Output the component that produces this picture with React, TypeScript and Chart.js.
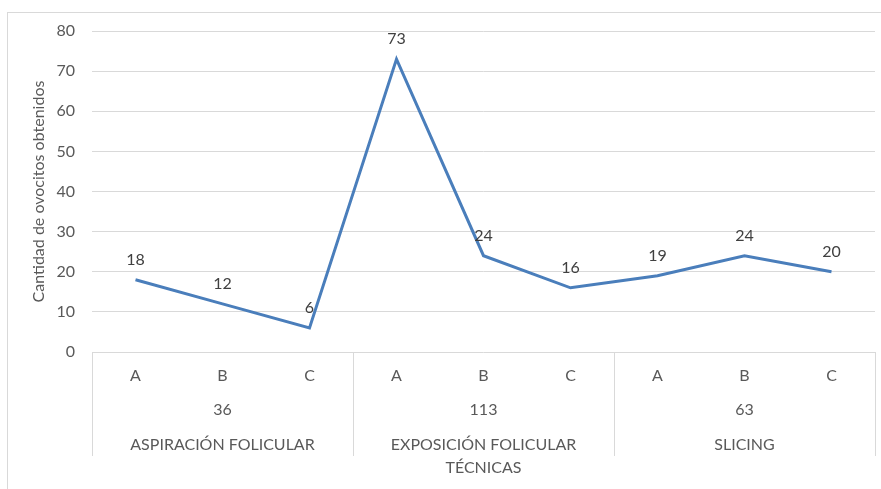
import React, { useEffect, useRef } from "react";
import { Chart, registerables } from "chart.js";

Chart.register(...registerables);

// Oocytes obtained per technique and sub-group
const subLabels = ["A", "B", "C", "A", "B", "C", "A", "B", "C"];
const oocyteCounts = [18, 12, 6, 73, 24, 16, 19, 24, 20];
const groupTotals = ["36", "113", "63"];
const techniques = ["ASPIRACIÓN FOLICULAR", "EXPOSICIÓN FOLICULAR", "SLICING"];
const yTicks = [0, 10, 20, 30, 40, 50, 60, 70, 80];

const FONT = "Lato, 'Open Sans', sans-serif";
const FONT_SIZE = 16;
const TICK_COLOR = "#595959";
const GRID_COLOR = "#d9d9d9";
const LINE_COLOR = "#4a7ebb";

const frame = {
  id: "frame",
  beforeDraw(chart: any) {
    const { ctx } = chart;
    ctx.save();
    ctx.fillStyle = "#ffffff";
    ctx.fillRect(0, 0, chart.width, chart.height);
    ctx.strokeStyle = GRID_COLOR;
    ctx.lineWidth = 1;
    ctx.strokeRect(7.5, 12.5, chart.width, chart.height);
    ctx.restore();
  },
};

// vertical separators between the technique groups, below the plot
const groupSeparators = {
  id: "groupSeparators",
  afterDraw(chart: any) {
    const { ctx, chartArea } = chart;
    const x = chart.scales.x;
    const x3 = chart.scales.x3;
    ctx.save();
    ctx.strokeStyle = GRID_COLOR;
    ctx.lineWidth = 1;
    for (let g = 0; g <= techniques.length; g++) {
      const px = Math.round(x.getPixelForValue(g * 3 - 0.5)) + 0.5;
      ctx.beginPath();
      ctx.moveTo(px, chartArea.bottom);
      ctx.lineTo(px, x3.top + 36);
      ctx.stroke();
    }
    ctx.restore();
  },
};

// value labels above each point
const valueLabels = {
  id: "valueLabels",
  afterDatasetsDraw(chart: any) {
    const { ctx } = chart;
    const meta = chart.getDatasetMeta(0);
    ctx.save();
    ctx.fillStyle = "#404040";
    ctx.font = `${FONT_SIZE}px ${FONT}`;
    ctx.textAlign = "center";
    ctx.textBaseline = "middle";
    meta.data.forEach((pt: any, i: number) => {
      ctx.fillText(String(oocyteCounts[i]), pt.x, pt.y - 20);
    });
    ctx.restore();
  },
};

const tickFont = { family: FONT, size: FONT_SIZE };

export default function App() {
  const canvasRef = useRef<HTMLCanvasElement | null>(null);

  useEffect(() => {
    if (!canvasRef.current) return;
    const chart = new Chart(canvasRef.current, {
      type: "line",
      data: {
        labels: subLabels,
        datasets: [
          {
            data: oocyteCounts,
            borderColor: LINE_COLOR,
            borderWidth: 3,
            pointRadius: 0,
            tension: 0,
            fill: false,
          },
        ],
      },
      options: {
        responsive: false,
        animation: false,
        layout: { padding: { left: 20, right: 6, top: 31, bottom: 12 } },
        plugins: {
          legend: { display: false },
          tooltip: { enabled: false },
        },
        scales: {
          x: {
            type: "category",
            position: "bottom",
            weight: 0,
            offset: true,
            grid: { display: false },
            border: { display: false },
            ticks: {
              color: TICK_COLOR,
              font: tickFont,
              padding: 6,
              maxRotation: 0,
              autoSkip: false,
            },
            afterFit: (s: any) => {
              s.height = 34;
            },
          },
          x2: {
            type: "category",
            position: "bottom",
            weight: 1,
            labels: groupTotals,
            offset: true,
            grid: { display: false },
            border: { display: false },
            ticks: {
              color: TICK_COLOR,
              font: tickFont,
              padding: 6,
              maxRotation: 0,
              autoSkip: false,
            },
            afterFit: (s: any) => {
              s.height = 34;
            },
          },
          x3: {
            type: "category",
            position: "bottom",
            weight: 2,
            labels: techniques,
            offset: true,
            grid: { display: false },
            border: { display: false },
            ticks: {
              color: TICK_COLOR,
              font: tickFont,
              padding: 7,
              maxRotation: 0,
              autoSkip: false,
            },
            title: {
              display: true,
              text: "TÉCNICAS",
              color: TICK_COLOR,
              font: tickFont,
              padding: { top: 0, bottom: 0 },
            },
            afterFit: (s: any) => {
              s.height = 57;
            },
          },
          y: {
            min: 0,
            max: 80,
            afterBuildTicks: (s: any) => {
              s.ticks = yTicks.map((v) => ({ value: v }));
            },
            grid: { color: GRID_COLOR, drawTicks: false, lineWidth: 1 },
            border: { display: false },
            ticks: {
              color: TICK_COLOR,
              font: tickFont,
              padding: 17,
            },
            title: {
              display: true,
              text: "Cantidad de ovocitos obtenidos",
              color: TICK_COLOR,
              font: tickFont,
              padding: { top: 9, bottom: 0 },
            },
            afterFit: (s: any) => {
              s.width = 72;
            },
          },
        },
      },
      plugins: [frame, groupSeparators, valueLabels],
    } as any);
    return () => chart.destroy();
  }, []);

  return (
    <div style={{ position: "fixed", left: 0, top: 0, width: 881, height: 489 }}>
      <canvas ref={canvasRef} width={881} height={489} />
    </div>
  );
}
